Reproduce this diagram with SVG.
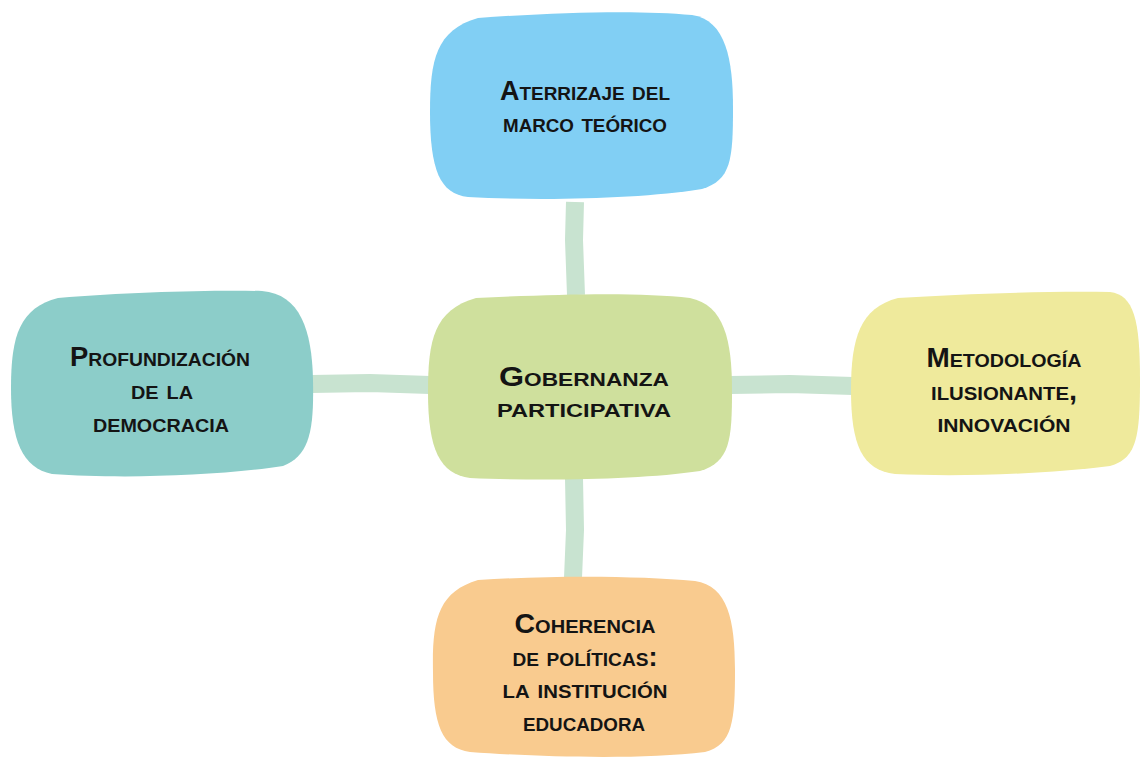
<svg xmlns="http://www.w3.org/2000/svg" width="1140" height="757" viewBox="0 0 1140 757">
<style>
.t{font-family:"Liberation Sans",Arial,sans-serif;font-variant:small-caps;font-size:27px;font-weight:bold;fill:#141414;text-anchor:middle}
.c{stroke:#C8E3D0;stroke-width:18;fill:none;stroke-linecap:butt}
</style>
<rect width="1140" height="757" fill="#fff"/>
<g id="connectors">
<path class="c" d="M575,202 L574,240 L576,295"/>
<path class="c" d="M574,478 L575,530 L573,578"/>
<path class="c" d="M311,384 L370,383 L430,385"/>
<path class="c" d="M730,385 L790,384 L853,386"/>
</g>
<g id="n-top">
<path fill="#81CFF4" d="M478,18 C560,12 640,10 692,15 C726,20 733,60 733,108 C733,160 731,180 702,189 C640,199 540,201 468,197 C440,194 430,170 430,112 C430,60 436,30 478,18 Z"/>
<text class="t" x="585" y="100" textLength="170" lengthAdjust="spacingAndGlyphs">Aterrizaje del</text>
<text class="t" x="585" y="132" textLength="164" lengthAdjust="spacingAndGlyphs">marco teórico</text>
</g>
<g id="n-center">
<path fill="#CFE09D" d="M476,298 C560,294 640,292 690,298 C724,305 732,340 732,390 C732,440 730,462 700,471 C640,480 540,481 470,478 C440,474 428,450 428,392 C428,340 434,310 476,298 Z"/>
<text class="t" x="584" y="386" textLength="170" lengthAdjust="spacingAndGlyphs">Gobernanza</text>
<text class="t" x="584" y="417" textLength="174" lengthAdjust="spacingAndGlyphs">participativa</text>
</g>
<g id="n-left">
<path fill="#8CCDC9" d="M58,298 C130,292 210,290 262,291 C300,294 312,330 313,380 C314,430 310,455 283,466 C220,476 120,479 52,474 C22,468 11,440 11,388 C11,335 20,308 58,298 Z"/>
<text class="t" x="160" y="366" textLength="180" lengthAdjust="spacingAndGlyphs">Profundización</text>
<text class="t" x="162" y="399" textLength="62" lengthAdjust="spacingAndGlyphs">de la</text>
<text class="t" x="161" y="432" textLength="136" lengthAdjust="spacingAndGlyphs">democracia</text>
</g>
<g id="n-right">
<path fill="#EFEA9C" d="M898,298 C960,294 1040,291 1110,292 C1134,295 1140,320 1140,380 C1140,440 1136,458 1110,466 C1050,474 960,477 895,474 C862,470 851,445 851,390 C851,338 860,308 898,298 Z"/>
<text class="t" x="1004" y="367" textLength="155" lengthAdjust="spacingAndGlyphs">Metodología</text>
<text class="t" x="1004" y="400" textLength="146" lengthAdjust="spacingAndGlyphs">ilusionante,</text>
<text class="t" x="1004" y="432" textLength="133" lengthAdjust="spacingAndGlyphs">innovación</text>
</g>
<g id="n-bottom">
<path fill="#F9CB8F" d="M478,580 C560,575 640,576 695,581 C728,586 735,620 735,670 C735,720 733,745 705,752 C640,760 540,757 470,752 C442,748 433,725 433,672 C432,620 438,592 478,580 Z"/>
<text class="t" x="585" y="633" textLength="141" lengthAdjust="spacingAndGlyphs">Coherencia</text>
<text class="t" x="585" y="666" textLength="145" lengthAdjust="spacingAndGlyphs">de políticas:</text>
<text class="t" x="585" y="698" textLength="165" lengthAdjust="spacingAndGlyphs">la institución</text>
<text class="t" x="584" y="731" textLength="122" lengthAdjust="spacingAndGlyphs">educadora</text>
</g>
</svg>
